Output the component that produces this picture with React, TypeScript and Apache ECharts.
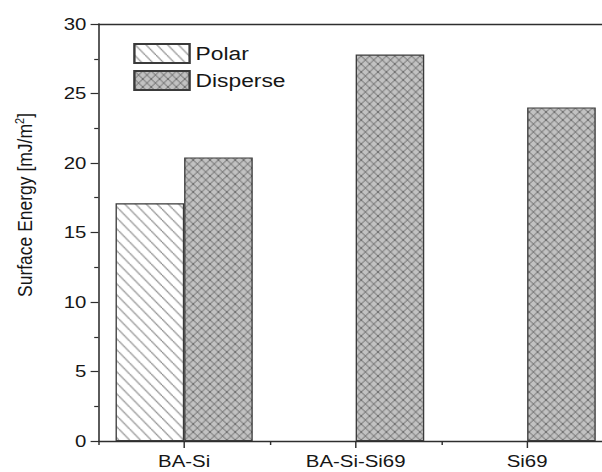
import React, { useEffect, useRef } from "react";
import * as echarts from "echarts";

// Surface energy components per sample
const categories = ["BA-Si", "BA-Si-Si69", "Si69"];
const polarValues = [17.1, null, null];
const disperseValues = [20.4, 27.8, 24.0];
const seriesNames = ["Polar", "Disperse"];
const yMin = 0;
const yMax = 30;
const yInterval = 5;

// The drawing is laid out on a narrower canvas and widened horizontally.
const STRETCH = 1.2;
const PAGE_W = 602;
const PAGE_H = 472;
const CHART_W = Math.ceil(PAGE_W / STRETCH);

const FONT = "'Liberation Sans', Arial, Helvetica, sans-serif";
const INK = "#161616";
const AXIS = "#2e2e2e";

function hatchTile(w: number, h: number, bg: string, line: string, lw: number, cross: boolean) {
  const c = document.createElement("canvas");
  c.width = w;
  c.height = h;
  const ctx = c.getContext("2d")!;
  ctx.fillStyle = bg;
  ctx.fillRect(0, 0, w, h);
  ctx.strokeStyle = line;
  ctx.lineWidth = lw;
  for (let k = -1; k <= 1; k++) {
    ctx.beginPath();
    ctx.moveTo(k * w, 0);
    ctx.lineTo(k * w + w, h);
    ctx.stroke();
    if (cross) {
      ctx.beginPath();
      ctx.moveTo(k * w + w, 0);
      ctx.lineTo(k * w, h);
      ctx.stroke();
    }
  }
  return { image: c.toDataURL(), repeat: "repeat", imageWidth: w, imageHeight: h } as any;
}

export default function App() {
  const ref = useRef<HTMLDivElement>(null);

  useEffect(() => {
    if (!ref.current) return;
    const chart = echarts.init(ref.current, null, { renderer: "svg" });

    const polarFill = hatchTile(9, 11, "#ffffff", "#8a8a8a", 1.1, false);
    const disperseFill = hatchTile(7, 8, "#c2c2c2", "#6e6e6e", 1, true);

    const gridLeft = 82;
    const gridTop = 24;
    const gridW = 428.75;
    const gridH = 417;

    const option: any = {
      animation: false,
      backgroundColor: "#ffffff",
      grid: {
        left: gridLeft,
        top: gridTop,
        width: gridW,
        height: gridH,
        containLabel: false,
        outerBoundsMode: "none",
      },
      legend: {
        orient: "vertical",
        left: 106,
        top: 38,
        itemWidth: 46,
        itemHeight: 19,
        itemGap: 6,
        icon: "rect",
        data: seriesNames,
        textStyle: { fontFamily: FONT, fontSize: 19, color: INK },
      },
      xAxis: [
        {
          type: "category",
          data: categories,
          position: "bottom",
          boundaryGap: true,
          axisLine: { show: true, lineStyle: { color: AXIS, width: 1.3 } },
          axisTick: { show: true, alignWithLabel: true, length: 7, lineStyle: { color: AXIS, width: 1.2 } },
          axisLabel: { fontFamily: FONT, fontSize: 17, color: INK, margin: 12 },
          splitLine: { show: false },
        },
        {
          type: "category",
          data: categories,
          position: "bottom",
          boundaryGap: true,
          axisLine: { show: false },
          axisTick: { show: true, length: 4, lineStyle: { color: AXIS, width: 1.2 } },
          axisLabel: { show: false },
          splitLine: { show: false },
        },
        {
          type: "category",
          data: categories,
          position: "top",
          axisLine: { show: true, lineStyle: { color: AXIS, width: 1.3 } },
          axisTick: { show: false },
          axisLabel: { show: false },
          splitLine: { show: false },
        },
      ],
      yAxis: {
        type: "value",
        min: yMin,
        max: yMax,
        interval: yInterval,
        axisLine: { show: true, lineStyle: { color: AXIS, width: 1.3 } },
        axisTick: { show: true, length: 6.5, lineStyle: { color: AXIS, width: 1.2 } },
        minorTick: { show: true, splitNumber: 2, length: 3.5, lineStyle: { color: AXIS, width: 1.2 } },
        axisLabel: { fontFamily: FONT, fontSize: 17, color: INK, margin: 10 },
        splitLine: { show: false },
        minorSplitLine: { show: false },
      },
      graphic: [
        {
          type: "text",
          x: 21,
          y: 205,
          rotation: Math.PI / 2,
          style: {
            text: "Surface Energy [mJ/m{sup|2}]",
            fontFamily: FONT,
            fontSize: 17.5,
            fill: INK,
            align: "center",
            verticalAlign: "middle",
            rich: {
              sup: { fontFamily: FONT, fontSize: 11, fill: INK, verticalAlign: "top", lineHeight: 20 },
            },
          },
        },
      ],
      series: [
        {
          name: seriesNames[0],
          type: "bar",
          xAxisIndex: 0,
          data: polarValues,
          barGap: "0%",
          barCategoryGap: "20%",
          itemStyle: { color: polarFill, borderColor: "#3a3a3a", borderWidth: 1.1 },
        },
        {
          name: seriesNames[1],
          type: "bar",
          xAxisIndex: 0,
          data: disperseValues,
          barGap: "0%",
          barCategoryGap: "20%",
          itemStyle: { color: disperseFill, borderColor: "#3a3a3a", borderWidth: 1.1 },
        },
      ],
    };

    chart.setOption(option);
    return () => chart.dispose();
  }, []);

  return (
    <div
      style={{
        position: "absolute",
        left: 0,
        top: 0,
        width: PAGE_W,
        height: PAGE_H,
        overflow: "hidden",
        background: "#ffffff",
      }}
    >
      <div
        ref={ref}
        style={{
          width: CHART_W,
          height: PAGE_H,
          transform: `scaleX(${STRETCH})`,
          transformOrigin: "0 0",
        }}
      />
    </div>
  );
}
